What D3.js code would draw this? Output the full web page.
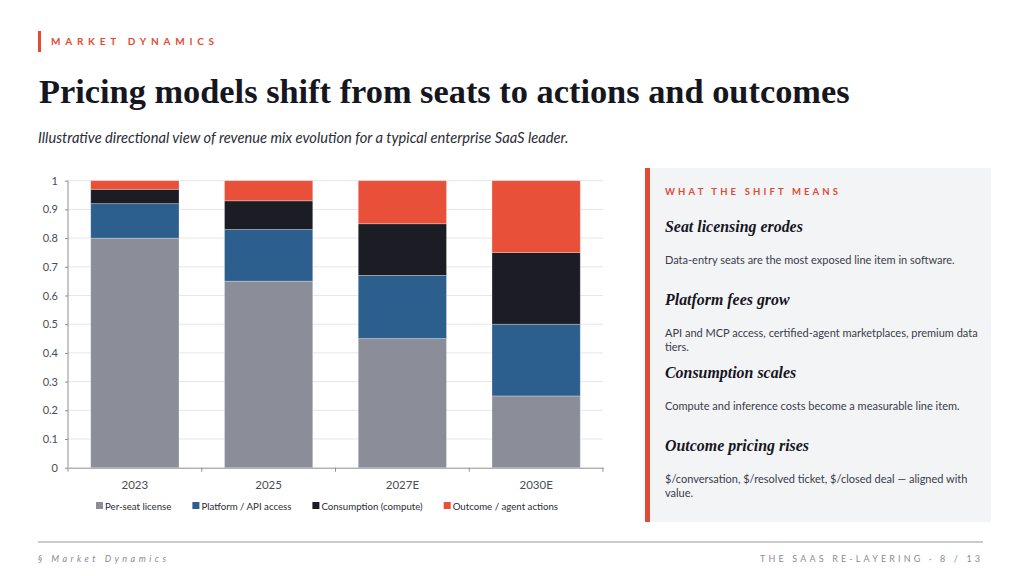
<!DOCTYPE html>
<html>
<head>
<meta charset="utf-8">
<script src="https://cdnjs.cloudflare.com/ajax/libs/d3/7.8.5/d3.min.js"></script>
<style>
  html, body { margin: 0; padding: 0; background: #fff; }
  svg { display: block; }
  .sans { font-family: Lato, "Open Sans", sans-serif; }
  .serif { font-family: "Liberation Serif", "DejaVu Serif", serif; }
  .axis path, .axis line { stroke: #8d8f96; }
  .axis text { fill: #4a4c55; }
</style>
</head>
<body>
<div id="chart"></div>
<script>
// ---- data ----
var categories = ["2023", "2025", "2027E", "2030E"];
var seriesNames = ["Per-seat license", "Platform / API access", "Consumption (compute)", "Outcome / agent actions"];
var perSeat     = [0.80, 0.65, 0.45, 0.25];
var platform    = [0.12, 0.18, 0.22, 0.25];
var consumption = [0.05, 0.10, 0.18, 0.25];
var outcome     = [0.03, 0.07, 0.15, 0.25];
var yTicks = [0, 0.1, 0.2, 0.3, 0.4, 0.5, 0.6, 0.7, 0.8, 0.9, 1];
var seriesColors = ["#8b8e99", "#2c5f8e", "#1c1c25", "#e8503a"];

var notes = [
  {head: "Seat licensing erodes", body: ["Data-entry seats are the most exposed line item in software."]},
  {head: "Platform fees grow", body: ["API and MCP access, certified-agent marketplaces, premium data", "tiers."]},
  {head: "Consumption scales", body: ["Compute and inference costs become a measurable line item."]},
  {head: "Outcome pricing rises", body: ["$/conversation, $/resolved ticket, $/closed deal \u2014 aligned with", "value."]}
];

var W = 1024, H = 576, red = "#e04b35";
var svg = d3.select("#chart").append("svg").attr("width", W).attr("height", H);

// helpers: scale font size / letter spacing so the text spans a target width
function fitSize(sel, target) {
  var w = sel.node().getComputedTextLength();
  sel.attr("font-size", parseFloat(sel.attr("font-size")) * target / w);
  return parseFloat(sel.attr("font-size"));
}
function fitSpacing(sel, target) {
  sel.attr("letter-spacing", 0);
  var w = sel.node().getComputedTextLength();
  var n = sel.text().length;
  sel.attr("letter-spacing", (target - w) / (n - 1));
}

// ---- header ----
svg.append("rect").attr("x", 38).attr("y", 31).attr("width", 3).attr("height", 21).attr("fill", red);
var kicker = svg.append("text").attr("class", "sans").attr("x", 51).attr("y", 45)
  .attr("font-size", 10).attr("font-weight", 700).attr("fill", red).text("MARKET DYNAMICS");
fitSpacing(kicker, 163);

var title = svg.append("text").attr("class", "serif").attr("x", 39).attr("y", 103)
  .attr("font-size", 34).attr("font-weight", "bold").attr("fill", "#16161e")
  .text("Pricing models shift from seats to actions and outcomes");
fitSize(title, 811);

var sub = svg.append("text").attr("class", "sans").attr("x", 38).attr("y", 143)
  .attr("font-size", 13).attr("font-style", "italic").attr("fill", "#2a2c36")
  .text("Illustrative directional view of revenue mix evolution for a typical enterprise SaaS leader.");
fitSize(sub, 531);

// ---- chart ----
var x = d3.scaleBand().domain(categories).range([68, 603]).paddingInner(0.34).paddingOuter(0.17);
var y = d3.scaleLinear().domain([0, 1]).range([467.7, 180.7]);

var rows = categories.map(function (c, i) {
  return {cat: c, s0: perSeat[i], s1: platform[i], s2: consumption[i], s3: outcome[i]};
});
var stack = d3.stack().keys(["s0", "s1", "s2", "s3"])(rows);

// gridlines
svg.append("g").selectAll("line").data(yTicks.slice(1)).join("line")
  .attr("x1", 68).attr("x2", 603)
  .attr("y1", function (d) { return y(d); }).attr("y2", function (d) { return y(d); })
  .attr("stroke", "#e6e7ea").attr("stroke-width", 1);

svg.append("g").selectAll("g").data(stack).join("g")
  .attr("fill", function (d, i) { return seriesColors[i]; })
  .selectAll("rect").data(function (d) { return d; }).join("rect")
  .attr("x", function (d) { return x(d.data.cat); })
  .attr("width", x.bandwidth())
  .attr("y", function (d) { return y(d[1]); })
  .attr("height", function (d) { return y(d[0]) - y(d[1]); })
  .attr("stroke", "#ffffff").attr("stroke-opacity", 0.35).attr("stroke-width", 0.8);

var yAxis = svg.append("g").attr("class", "axis sans").attr("transform", "translate(68,0)")
  .call(d3.axisLeft(y).tickValues(yTicks).tickSize(3).tickPadding(7).tickFormat(function (d) { return String(d); }));
yAxis.select(".domain").attr("d", "M0," + y(1) + "V" + y(0));
yAxis.selectAll("text").attr("font-size", 11);

var xAxis = svg.append("g").attr("class", "axis sans").attr("transform", "translate(0," + y(0) + ")")
  .call(d3.axisBottom(x).tickSize(0).tickPadding(13));
xAxis.selectAll("text").attr("font-size", 11.5);
// boundary ticks between categories
var bounds = d3.range(categories.length + 1).map(function (i) { return x.range()[0] + i * x.step(); });
xAxis.selectAll(".btick").data(bounds).join("line").attr("class", "btick")
  .attr("x1", function (d) { return d; }).attr("x2", function (d) { return d; })
  .attr("y1", 0).attr("y2", 4).attr("stroke", "#8d8f96");

// legend: laid out from text widths, font sized so the row spans 96..561
function drawLegend(fs) {
  var g = svg.append("g").attr("class", "sans");
  var lx = 96, end = 0;
  seriesNames.forEach(function (name, i) {
    g.append("rect").attr("x", lx).attr("y", 502).attr("width", 7).attr("height", 7).attr("fill", seriesColors[i]);
    var t = g.append("text").attr("x", lx + 9).attr("y", 509.5).attr("font-size", fs)
      .attr("fill", "#2a2c36").text(name);
    end = lx + 9 + t.node().getComputedTextLength();
    lx = end + 21;
  });
  return {g: g, end: end};
}
var lg = drawLegend(10.5);
if (Math.abs(lg.end - 561) > 3) {
  var fs = 10.5 * (561 - 96 - 3 * 30 - 36) / (lg.end - 96 - 3 * 30 - 36);
  lg.g.remove();
  drawLegend(fs);
}

// ---- side panel ----
svg.append("rect").attr("x", 645).attr("y", 168).attr("width", 346).attr("height", 354).attr("fill", "#f3f4f6");
svg.append("rect").attr("x", 645).attr("y", 168).attr("width", 5).attr("height", 354).attr("fill", red);

var pk = svg.append("text").attr("class", "sans").attr("x", 665).attr("y", 195)
  .attr("font-size", 9.5).attr("font-weight", 700).attr("fill", red).text("WHAT THE SHIFT MEANS");
fitSpacing(pk, 173);

var headY = [232, 305, 378, 451];
var headSize = null, bodySize = null;
notes.forEach(function (n, i) {
  var h = svg.append("text").attr("class", "serif").attr("x", 665).attr("y", headY[i])
    .attr("font-size", headSize || 17).attr("font-style", "italic").attr("font-weight", 600)
    .attr("fill", "#16161e").text(n.head);
  if (!headSize) headSize = fitSize(h, 138);
  var b = svg.append("text").attr("class", "sans").attr("x", 665).attr("y", headY[i] + 32)
    .attr("font-size", bodySize || 10).attr("fill", "#3a3c4a");
  b.selectAll("tspan").data(n.body).join("tspan")
    .attr("x", 665).attr("dy", function (d, j) { return j ? 14 : 0; }).text(function (d) { return d; });
  if (!bodySize) {
    var w = b.node().getComputedTextLength();
    bodySize = 10 * 290 / w;
    b.attr("font-size", bodySize);
  }
});

// ---- footer ----
svg.append("line").attr("x1", 38).attr("x2", 983).attr("y1", 542).attr("y2", 542)
  .attr("stroke", "#c9cbd4").attr("stroke-width", 2);
var fl = svg.append("text").attr("class", "sans").attr("x", 38).attr("y", 562)
  .attr("font-size", 9).attr("font-style", "italic").attr("fill", "#8a8c96").text("\u00a7 Market Dynamics");
fitSpacing(fl, 128);
var fr = svg.append("text").attr("class", "sans").attr("x", 760).attr("y", 562)
  .attr("font-size", 9).attr("fill", "#8a8c96").text("THE SAAS RE-LAYERING \u00b7 8 / 13");
fitSpacing(fr, 220);
</script>
</body>
</html>
